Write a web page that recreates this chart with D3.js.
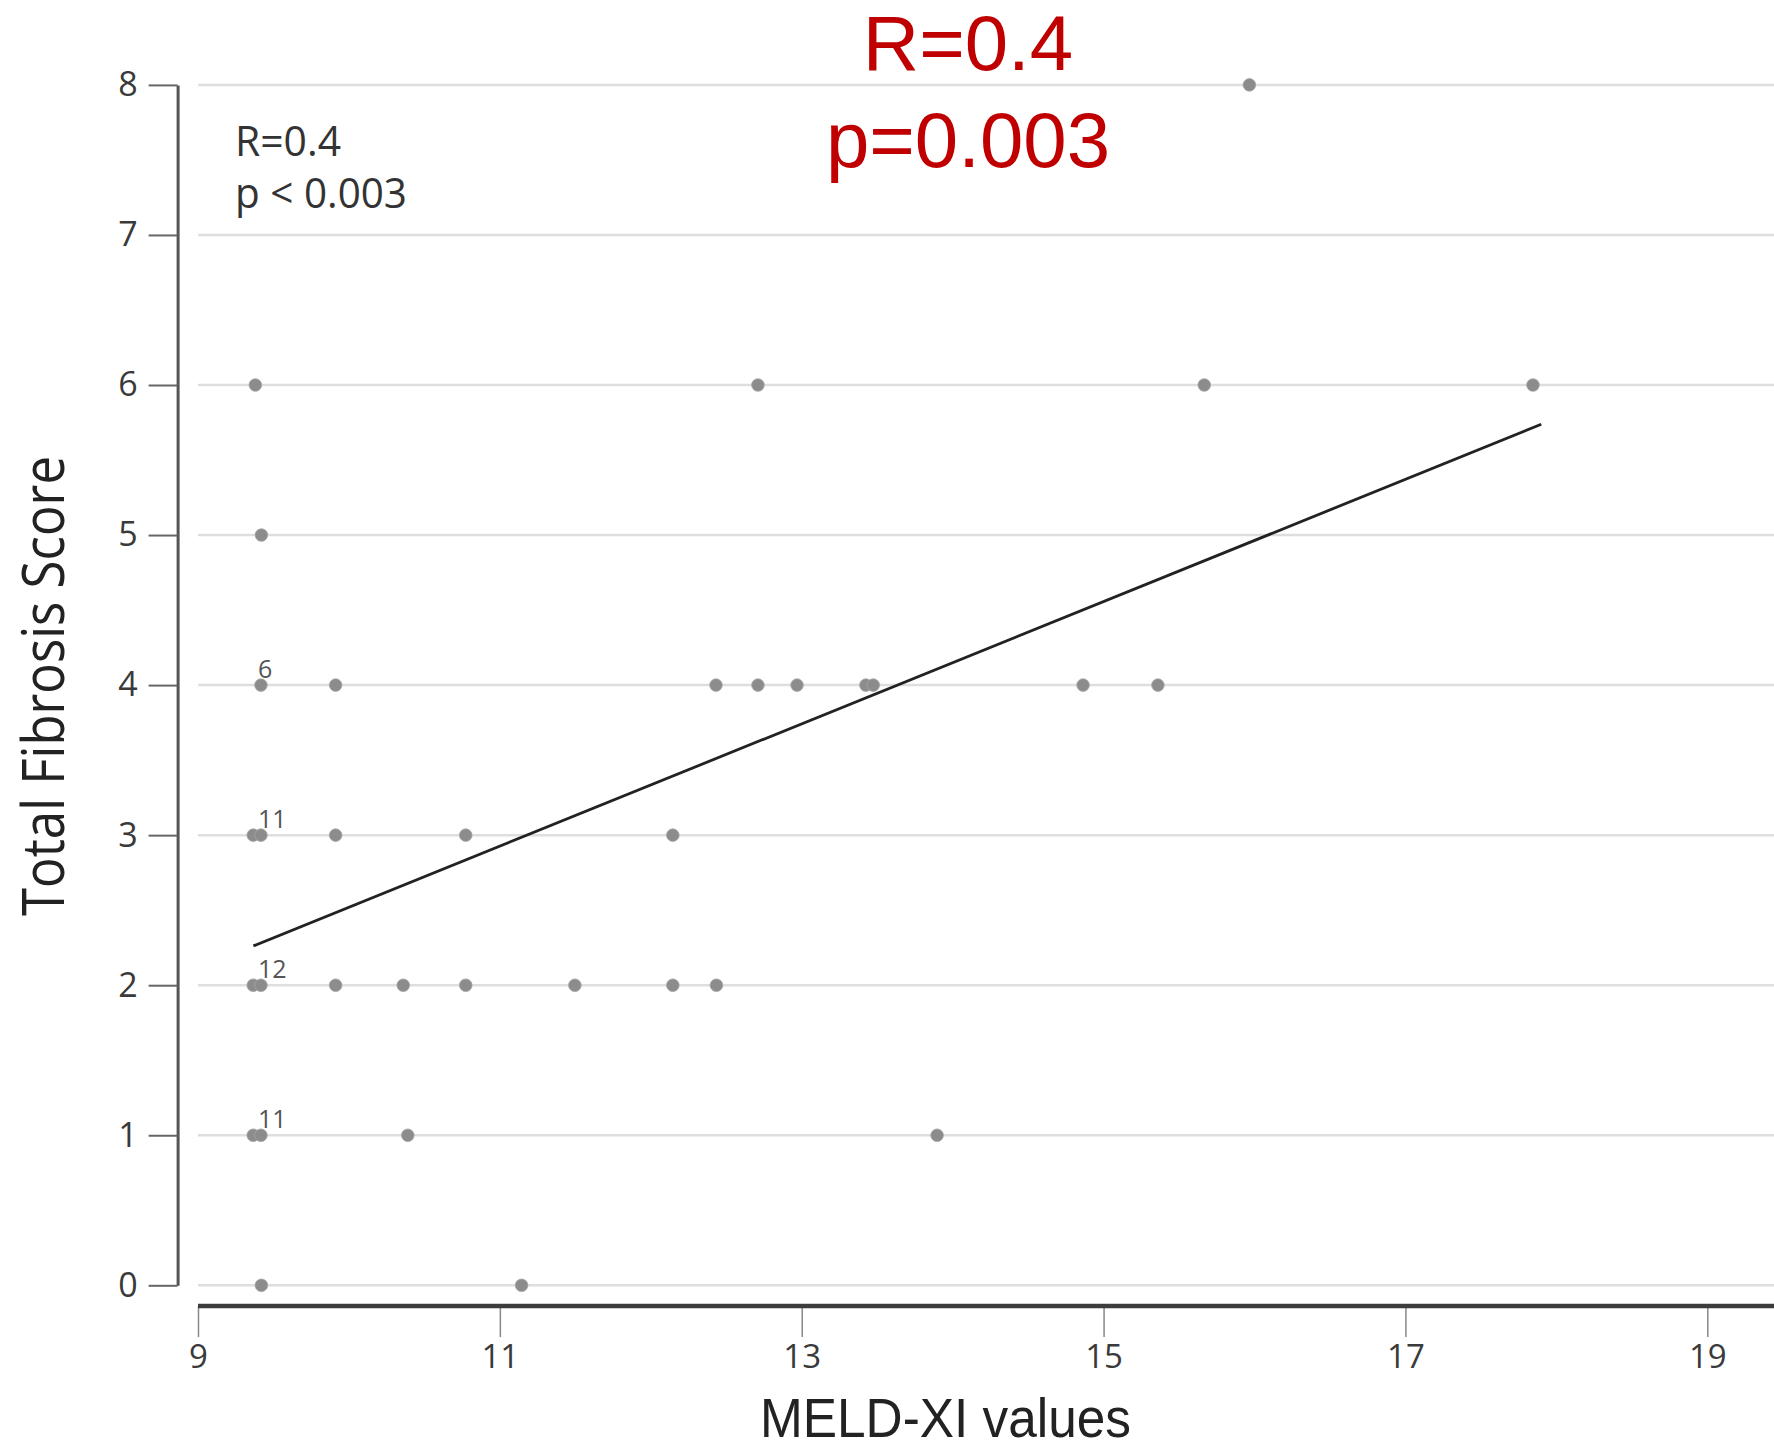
<!DOCTYPE html>
<html>
<head>
<meta charset="utf-8">
<script src="https://cdn.jsdelivr.net/npm/d3@7"></script>
<style>
  html, body { margin: 0; padding: 0; background: #ffffff; }
  svg { display: block; }
</style>
</head>
<body>
<script>
// ---- Data ----
const meldXI = [
  15.966,
  9.38, 12.71, 15.667, 17.845,
  9.42,
  9.417, 9.912, 12.432, 12.71, 12.969, 13.425, 13.474, 14.864, 15.36,
  9.366, 9.417, 9.912, 10.774, 12.146,
  9.366, 9.417, 9.912, 10.36, 10.774, 11.497, 12.146, 12.435,
  9.366, 9.417, 10.39, 13.897,
  9.42, 11.144
];
const fibrosis = [
  8,
  6, 6, 6, 6,
  5,
  4, 4, 4, 4, 4, 4, 4, 4, 4,
  3, 3, 3, 3, 3,
  2, 2, 2, 2, 2, 2, 2, 2,
  1, 1, 1, 1,
  0, 0
];
const countLabels = ["6", "11", "12", "11"];
const countRows = [4, 3, 2, 1];
const countX = [9.417, 9.417, 9.417, 9.417];
const fitX = [9.367, 17.9];
const fitY = [2.262, 5.738];
const xTicks = [9, 11, 13, 15, 17, 19];
const yTicks = [0, 1, 2, 3, 4, 5, 6, 7, 8];
const xTitle = "MELD-XI values";
const yTitle = "Total Fibrosis Score";
const insetLines = ["R=0.4", "p < 0.003"];
const titleLines = ["R=0.4", "p=0.003"];

// ---- Layout ----
const W = 1774, H = 1449;
const svg = d3.select("body").append("svg").attr("width", W).attr("height", H);
const x = d3.scaleLinear().domain([9, 19]).range([198, 1707.3]);
const y = d3.scaleLinear().domain([0, 8]).range([1285.3, 84.9]);
const tickFont = "'Open Sans', 'Noto Sans', sans-serif";

// gridlines
svg.append("g").selectAll("line").data(yTicks).join("line")
  .attr("x1", x(9)).attr("x2", W)
  .attr("y1", d => y(d)).attr("y2", d => y(d))
  .attr("stroke", "#dedede").attr("stroke-width", 2.5);

// y axis
const yAxis = svg.append("g").attr("transform", "translate(177.6,0)")
  .call(d3.axisLeft(y).tickValues(yTicks).tickFormat(d3.format("d"))
        .tickSize(29).tickSizeOuter(0).tickPadding(11));
yAxis.select(".domain").attr("stroke", "#555").attr("stroke-width", 3);
yAxis.selectAll(".tick line").attr("stroke", "#666").attr("stroke-width", 2);
yAxis.selectAll(".tick text").attr("font-family", tickFont).attr("font-size", 34)
  .attr("fill", "#3a3a3a");

// x axis
const xAxis = svg.append("g").attr("transform", "translate(0,1306)")
  .call(d3.axisBottom(x).tickValues(xTicks).tickFormat(d3.format("d"))
        .tickSize(31).tickSizeOuter(0).tickPadding(8));
xAxis.select(".domain").remove();
xAxis.selectAll(".tick line").attr("stroke", "#888").attr("stroke-width", 1.5);
xAxis.selectAll(".tick text").attr("font-family", tickFont).attr("font-size", 33)
  .attr("fill", "#3a3a3a");
xAxis.append("line").attr("x1", x(9)).attr("x2", W).attr("y1", 0).attr("y2", 0)
  .attr("stroke", "#3c3c3c").attr("stroke-width", 4.5);

// regression line
svg.append("line")
  .attr("x1", x(fitX[0])).attr("y1", y(fitY[0]))
  .attr("x2", x(fitX[1])).attr("y2", y(fitY[1]))
  .attr("stroke", "#222").attr("stroke-width", 2.8);

// points
svg.append("g").selectAll("circle").data(meldXI.map((v, i) => [v, fibrosis[i]])).join("circle")
  .attr("cx", d => x(d[0])).attr("cy", d => y(d[1])).attr("r", 6.3)
  .attr("fill", "#8c8c8c").attr("stroke", "#a5a5a5").attr("stroke-width", 0.8);

// count labels
svg.append("g").selectAll("text").data(countLabels).join("text")
  .attr("x", (d, i) => x(countX[i]) - 3).attr("y", (d, i) => y(countRows[i]) - 7.5)
  .attr("font-family", tickFont).attr("font-size", 25).attr("fill", "#555")
  .text(d => d);

// axis titles
svg.append("text").attr("x", 945.5).attr("y", 1437)
  .attr("text-anchor", "middle").attr("font-family", "'Liberation Sans', Arial, sans-serif")
  .attr("font-size", 56)
  .attr("fill", "#222").attr("textLength", 371).attr("lengthAdjust", "spacingAndGlyphs")
  .text(xTitle);
svg.append("text").attr("transform", "translate(64,686) rotate(-90)")
  .attr("text-anchor", "middle").attr("font-family", tickFont).attr("font-size", 58)
  .attr("fill", "#222").attr("textLength", 460).attr("lengthAdjust", "spacingAndGlyphs")
  .text(yTitle);

// inset annotation
const insetLen = [106, 172];
const insetBase = [156, 208];
svg.append("g").selectAll("text").data(insetLines).join("text")
  .attr("x", 235).attr("y", (d, i) => insetBase[i])
  .attr("font-family", tickFont).attr("font-size", 42).attr("fill", "#333")
  .attr("textLength", (d, i) => insetLen[i]).attr("lengthAdjust", "spacingAndGlyphs")
  .text(d => d);

// red title
const titleBase = [70, 167];
svg.append("g").selectAll("text").data(titleLines).join("text")
  .attr("x", 968).attr("y", (d, i) => titleBase[i]).attr("text-anchor", "middle")
  .attr("font-family", "'Liberation Sans', Arial, sans-serif").attr("font-size", 78)
  .attr("fill", "#c00000")
  .text(d => d);
</script>
</body>
</html>
